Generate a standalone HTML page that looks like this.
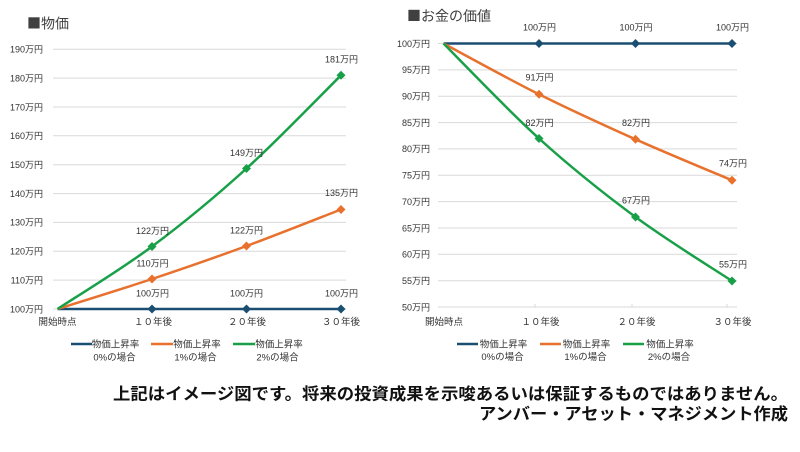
<!DOCTYPE html>
<html><head><meta charset="utf-8">
<style>
html,body{margin:0;padding:0;background:#fff;}
svg{display:block;}
text{font-family:"Liberation Sans","Noto Sans CJK JP",sans-serif;}
.ax{font-size:9px;fill:#333;}
.dl{font-size:9px;fill:#333;}
.lg{font-size:9.5px;fill:#333;}
.xl{font-size:9.5px;fill:#333;font-family:"Noto Sans CJK JP","Liberation Sans",sans-serif;}
.tt{font-size:14px;fill:#404040;font-family:"Noto Sans CJK JP",sans-serif;}
.bt{font-size:16.5px;fill:#111;font-weight:bold;font-family:"Noto Sans CJK JP",sans-serif;}
</style></head>
<body>
<svg width="800" height="452" viewBox="0 0 800 452" xmlns="http://www.w3.org/2000/svg">
<rect width="800" height="452" fill="#fff"/>

<!-- ===== LEFT CHART ===== -->
<text class="tt" x="27" y="28.5">■物価</text>
<g stroke="#d9d9d9" stroke-width="1">
<line x1="53" x2="346" y1="49.3" y2="49.3"/>
<line x1="53" x2="346" y1="78.1" y2="78.1"/>
<line x1="53" x2="346" y1="107" y2="107"/>
<line x1="53" x2="346" y1="135.8" y2="135.8"/>
<line x1="53" x2="346" y1="164.7" y2="164.7"/>
<line x1="53" x2="346" y1="193.6" y2="193.6"/>
<line x1="53" x2="346" y1="222.4" y2="222.4"/>
<line x1="53" x2="346" y1="251.3" y2="251.3"/>
<line x1="53" x2="346" y1="280.1" y2="280.1"/>
<line x1="53" x2="346" y1="309" y2="309"/>
</g>
<g class="ax" text-anchor="end">
<text x="43" y="52.6">190万円</text>
<text x="43" y="81.4">180万円</text>
<text x="43" y="110.3">170万円</text>
<text x="43" y="139.1">160万円</text>
<text x="43" y="168">150万円</text>
<text x="43" y="196.9">140万円</text>
<text x="43" y="225.7">130万円</text>
<text x="43" y="254.6">120万円</text>
<text x="43" y="283.4">110万円</text>
<text x="43" y="312.3">100万円</text>
</g>
<g class="xl" text-anchor="middle">
<text x="57.5" y="325">開始時点</text>
<text x="153" y="325">１０年後</text>
<text x="247" y="325">２０年後</text>
<text x="341" y="325">３０年後</text>
</g>
<!-- series -->
<path d="M57.5,309 L341,309" stroke="#1b4f72" stroke-width="2.5" fill="none"/>
<path d="M57.5,309 C73.25,304 120.5,289.5 152,279 C183.5,268.5 215,257.58 246.5,246 C278,234.42 325.25,215.58 341,209.5" stroke="#e8712d" stroke-width="2.5" fill="none"/>
<path d="M57.5,309 C73.25,298.58 120.5,269.92 152,246.5 C183.5,223.08 215,197.03 246.5,168.5 C278,139.97 325.25,90.83 341,75.3" stroke="#18a048" stroke-width="2.5" fill="none"/>
<g fill="#1b4f72">
<path d="M152,304.5 l4.5,4.5 l-4.5,4.5 l-4.5,-4.5z"/>
<path d="M246.5,304.5 l4.5,4.5 l-4.5,4.5 l-4.5,-4.5z"/>
<path d="M341,304.5 l4.5,4.5 l-4.5,4.5 l-4.5,-4.5z"/>
</g>
<g fill="#e8712d">
<path d="M152,274.5 l4.5,4.5 l-4.5,4.5 l-4.5,-4.5z"/>
<path d="M246.5,241.5 l4.5,4.5 l-4.5,4.5 l-4.5,-4.5z"/>
<path d="M341,205 l4.5,4.5 l-4.5,4.5 l-4.5,-4.5z"/>
</g>
<g fill="#18a048">
<path d="M152,242 l4.5,4.5 l-4.5,4.5 l-4.5,-4.5z"/>
<path d="M246.5,164 l4.5,4.5 l-4.5,4.5 l-4.5,-4.5z"/>
<path d="M341,70.8 l4.5,4.5 l-4.5,4.5 l-4.5,-4.5z"/>
</g>
<g class="dl" text-anchor="middle">
<text x="152.5" y="234">122万円</text>
<text x="152.5" y="266.6">110万円</text>
<text x="152.5" y="296.6">100万円</text>
<text x="246.5" y="156">149万円</text>
<text x="246.5" y="233.3">122万円</text>
<text x="246.5" y="296.6">100万円</text>
<text x="341.5" y="62.6">181万円</text>
<text x="341.5" y="196">135万円</text>
<text x="341.5" y="296.6">100万円</text>
</g>
<!-- legend left -->
<line x1="71" x2="92" y1="344" y2="344" stroke="#1b4f72" stroke-width="2.5"/>
<line x1="151" x2="173" y1="344" y2="344" stroke="#e8712d" stroke-width="2.5"/>
<line x1="233" x2="255" y1="344" y2="344" stroke="#18a048" stroke-width="2.5"/>
<g class="lg" text-anchor="middle">
<text x="115.5" y="347.5">物価上昇率</text>
<text x="114.5" y="360.5">0%の場合</text>
<text x="197" y="347.5">物価上昇率</text>
<text x="195.5" y="360.5">1%の場合</text>
<text x="279" y="347.5">物価上昇率</text>
<text x="277.5" y="360.5">2%の場合</text>
</g>

<!-- ===== RIGHT CHART ===== -->
<text class="tt" x="407" y="21">■お金の価値</text>
<g stroke="#d9d9d9" stroke-width="1">
<line x1="438" x2="737" y1="43.5" y2="43.5"/>
<line x1="438" x2="737" y1="69.9" y2="69.9"/>
<line x1="438" x2="737" y1="96.2" y2="96.2"/>
<line x1="438" x2="737" y1="122.6" y2="122.6"/>
<line x1="438" x2="737" y1="148.9" y2="148.9"/>
<line x1="438" x2="737" y1="175.3" y2="175.3"/>
<line x1="438" x2="737" y1="201.6" y2="201.6"/>
<line x1="438" x2="737" y1="228" y2="228"/>
<line x1="438" x2="737" y1="254.3" y2="254.3"/>
<line x1="438" x2="737" y1="280.7" y2="280.7"/>
<line x1="438" x2="737" y1="307" y2="307"/>
<line x1="535" x2="535" y1="304" y2="307"/>
<line x1="632" x2="632" y1="304" y2="307"/>
<line x1="727" x2="727" y1="304" y2="307"/>
</g>
<g class="ax" text-anchor="end">
<text x="430" y="46.8">100万円</text>
<text x="430" y="73.2">95万円</text>
<text x="430" y="99.5">90万円</text>
<text x="430" y="125.9">85万円</text>
<text x="430" y="152.2">80万円</text>
<text x="430" y="178.6">75万円</text>
<text x="430" y="204.9">70万円</text>
<text x="430" y="231.3">65万円</text>
<text x="430" y="257.6">60万円</text>
<text x="430" y="284">55万円</text>
<text x="430" y="310.3">50万円</text>
</g>
<g class="xl" text-anchor="middle">
<text x="444" y="325">開始時点</text>
<text x="540.5" y="325">１０年後</text>
<text x="636.5" y="325">２０年後</text>
<text x="732.5" y="325">３０年後</text>
</g>
<path d="M443.5,43.5 L732,43.5" stroke="#1b4f72" stroke-width="2.5" fill="none"/>
<path d="M443.5,43.5 C459.42,51.97 507,78.33 539,94.3 C571,110.27 603.33,124.97 635.5,139.3 C667.67,153.63 715.92,173.47 732,180.3" stroke="#e8712d" stroke-width="2.5" fill="none"/>
<path d="M443.5,43.5 C459.42,59.33 507,109.58 539,138.5 C571,167.42 603.33,193.25 635.5,217 C667.67,240.75 715.92,270.33 732,281" stroke="#18a048" stroke-width="2.5" fill="none"/>
<g fill="#1b4f72">
<path d="M539,39 l4.5,4.5 l-4.5,4.5 l-4.5,-4.5z"/>
<path d="M635.5,39 l4.5,4.5 l-4.5,4.5 l-4.5,-4.5z"/>
<path d="M732,39 l4.5,4.5 l-4.5,4.5 l-4.5,-4.5z"/>
</g>
<g fill="#e8712d">
<path d="M539,89.8 l4.5,4.5 l-4.5,4.5 l-4.5,-4.5z"/>
<path d="M635.5,134.8 l4.5,4.5 l-4.5,4.5 l-4.5,-4.5z"/>
<path d="M732,175.8 l4.5,4.5 l-4.5,4.5 l-4.5,-4.5z"/>
</g>
<g fill="#18a048">
<path d="M539,134 l4.5,4.5 l-4.5,4.5 l-4.5,-4.5z"/>
<path d="M635.5,212.5 l4.5,4.5 l-4.5,4.5 l-4.5,-4.5z"/>
<path d="M732,276.5 l4.5,4.5 l-4.5,4.5 l-4.5,-4.5z"/>
</g>
<g class="dl" text-anchor="middle">
<text x="539.5" y="30.6">100万円</text>
<text x="636" y="30.6">100万円</text>
<text x="732.5" y="30.6">100万円</text>
<text x="539.5" y="80.6">91万円</text>
<text x="539.5" y="126">82万円</text>
<text x="636" y="126">82万円</text>
<text x="636" y="203.3">67万円</text>
<text x="733" y="166.6">74万円</text>
<text x="733" y="267.3">55万円</text>
</g>
<!-- legend right -->
<line x1="457" x2="478" y1="344" y2="344" stroke="#1b4f72" stroke-width="2.5"/>
<line x1="540" x2="561" y1="344" y2="344" stroke="#e8712d" stroke-width="2.5"/>
<line x1="623" x2="644" y1="344" y2="344" stroke="#18a048" stroke-width="2.5"/>
<g class="lg" text-anchor="middle">
<text x="503.5" y="347.5">物価上昇率</text>
<text x="502.5" y="360">0%の場合</text>
<text x="586.5" y="347.5">物価上昇率</text>
<text x="585.5" y="360">1%の場合</text>
<text x="670" y="347.5">物価上昇率</text>
<text x="669" y="360">2%の場合</text>
</g>

<!-- bottom notes -->
<text class="bt" x="113" y="399.5" textLength="675" lengthAdjust="spacingAndGlyphs">上記はイメージ図です。将来の投資成果を示唆あるいは保証するものではありません。</text>
<text class="bt" x="479" y="419.5" textLength="309" lengthAdjust="spacingAndGlyphs">アンバー・アセット・マネジメント作成</text>
</svg>
</body></html>
